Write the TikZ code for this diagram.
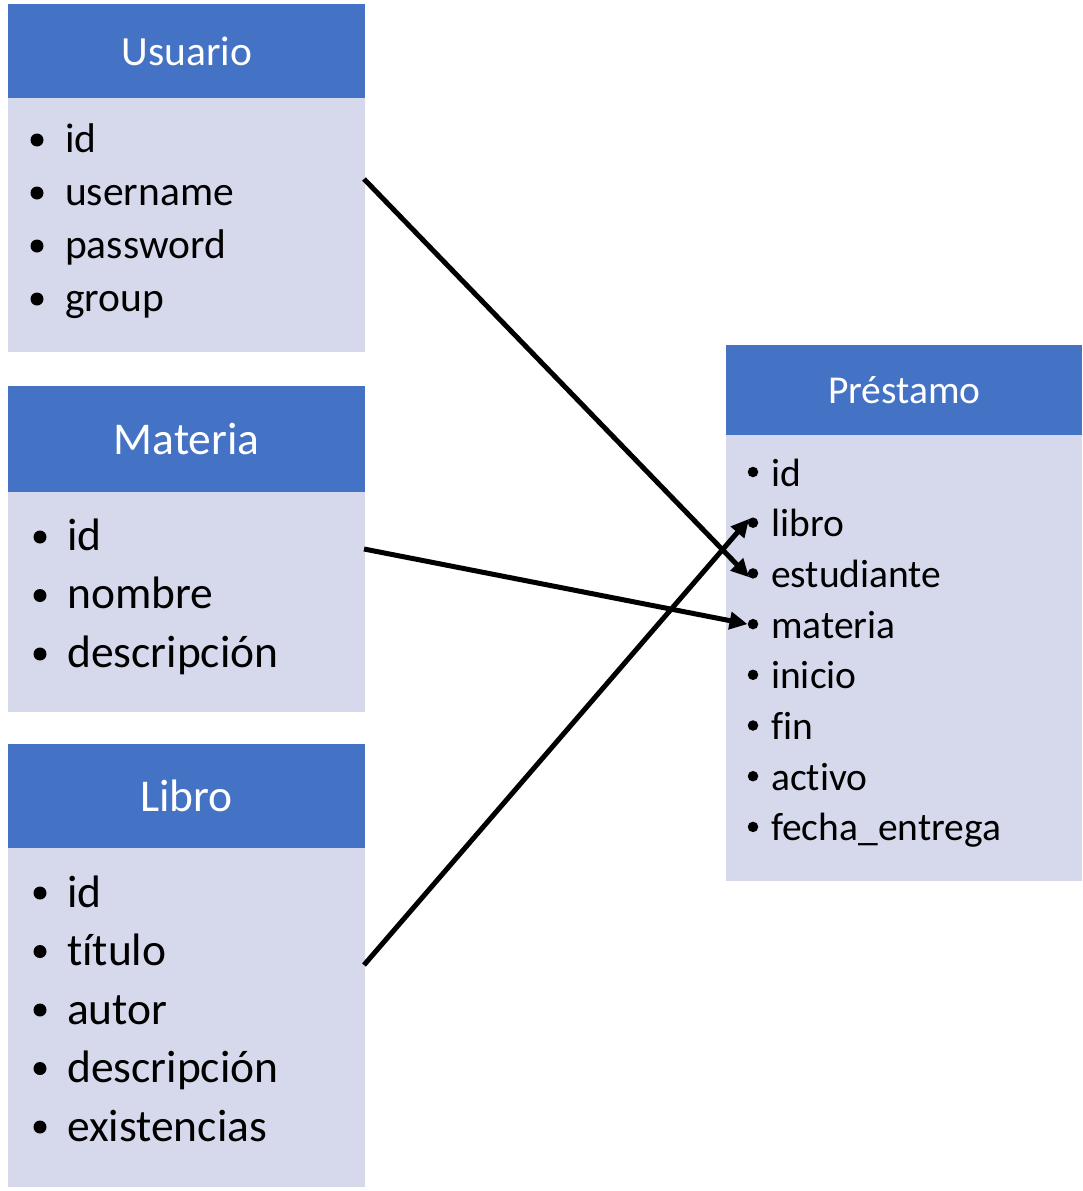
\documentclass[tikz,border=0pt]{standalone}
\usepackage{fontspec}
\setmainfont{Carlito}[Ligatures={NoCommon}, RawFeature={-liga;-clig}]
\usetikzlibrary{arrows.meta}
\definecolor{hdr}{HTML}{4472C4}
\definecolor{bdy}{HTML}{D5D9EB}
\def\fbig{\fontsize{45.5}{52}\selectfont}
\def\fmid{\fontsize{41.5}{48}\selectfont}
\def\fsml{\fontsize{39.5}{46}\selectfont}

\begin{document}
\begin{tikzpicture}[x=1pt, y=-1pt,
    head/.style={fill=hdr, text=white, inner sep=0pt, anchor=north west, minimum width=357pt},
    body/.style={fill=bdy, inner sep=0pt, anchor=north west, minimum width=357pt},
    item/.style={anchor=base west, inner sep=0pt},
    dot/.style={circle, fill=black, inner sep=0pt, minimum size=13pt},
    link/.style={line width=5pt, -{Triangle[length=18pt, width=17pt]}}]
        \useasboundingbox (0,0) rectangle (1082,1191);
        % Usuario
        \node[head, minimum height=94pt] (uh) at (8,4) {\fmid Usuario};
        \node[body, minimum height=254pt] (ub) at (8,98) {};
        \foreach \t [count=\i] in {id,username,password,group}{
        \node[item, font=\fmid] (u\i) at (65,{152+53*(\i-1)}) {\t};
        \node[dot] (ud\i) at (37,{140+53*(\i-1)}) {};
        }
        % Materia
        \node[head, minimum height=106pt] (mh) at (8,386) {\fbig Materia};
        \node[body, minimum height=220pt] (mb) at (8,492) {};
        \foreach \t [count=\i] in {id,nombre,descripción}{
        \node[item, font=\fbig] (m\i) at (67,{550+58.5*(\i-1)}) {\t};
        \node[dot] (md\i) at (40,{537+58.5*(\i-1)}) {};
        }
        % Libro
        \node[head, minimum height=104pt] (lh) at (8,744) {\fbig Libro};
        \node[body, minimum height=339pt] (lb) at (8,848) {};
        \foreach \t [count=\i] in {id,título,autor,descripción,existencias}{
        \node[item, font=\fbig] (l\i) at (67,{907+58.5*(\i-1)}) {\t};
        \node[dot] (ld\i) at (40,{893+58.5*(\i-1)}) {};
        }
        % Prestamo
        \node[head, minimum width=356pt, minimum height=90pt] (ph) at (726,345) {\fsml Préstamo};
        \node[body, minimum width=356pt, minimum height=446pt] (pb) at (726,435) {};
        \foreach \t [count=\i] in {id,libro,estudiante,materia,inicio,f\kern0pt in,activo,fecha\_entrega}{
        \node[item, font=\fsml] (p\i) at (771,{486+50.7*(\i-1)}) {\t};
        \node[dot, minimum size=10.5pt] (pd\i) at (753,{472+50.7*(\i-1)}) {};
        }
        \coordinate (uo) at (364,179);
        \coordinate (mo) at (364,549);
        \coordinate (lo) at (364,965);
        \draw[link] (uo) -- (pd3.south west);
        \draw[link] (mo) -- (pd4.west);
        \draw[link] (lo) -- (pd2.north west);
      \end{tikzpicture}
\end{document}
